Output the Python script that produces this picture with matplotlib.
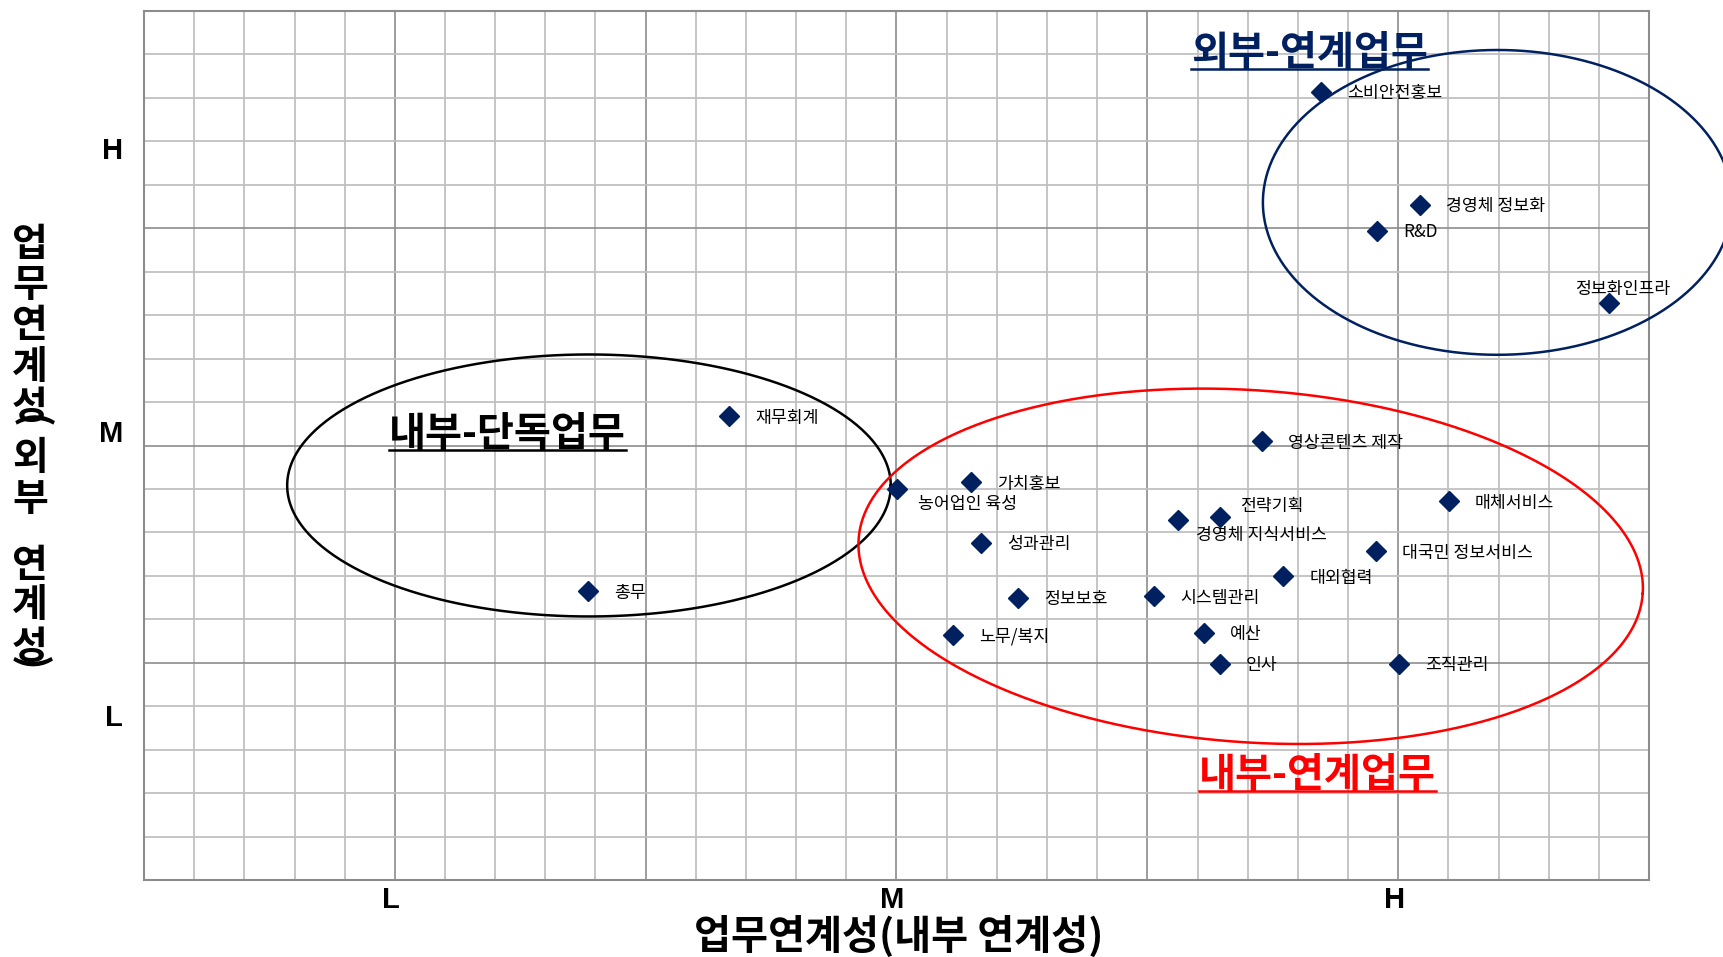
import numpy as np
import matplotlib
matplotlib.use('Agg')
import matplotlib.pyplot as plt
from matplotlib.lines import Line2D

plt.rcParams['font.family'] = ['Noto Sans CJK KR', 'DejaVu Sans']

# ---------------- data ----------------
tasks = ['소비안전홍보', '경영체 정보화', 'R&D', '정보화인프라', '재무회계',
         '영상콘텐츠 제작', '가치홍보', '농어업인 육성', '매체서비스', '전략기획',
         '경영체 지식서비스', '성과관리', '대국민 정보서비스', '대외협력', '총무',
         '정보보호', '시스템관리', '노무/복지', '예산', '인사', '조직관리']
internal = [2.847, 3.043, 2.958, 3.421, 1.667,
            2.729, 2.149, 2.001, 3.101, 2.645,
            2.561, 2.168, 2.956, 2.771, 1.385,
            2.242, 2.513, 2.112, 2.612, 2.645, 3.002]
external = [3.629, 3.108, 2.989, 2.654, 2.135,
            2.020, 1.831, 1.798, 1.744, 1.670,
            1.655, 1.553, 1.513, 1.398, 1.329,
            1.300, 1.306, 1.130, 1.137, 0.996, 0.996]

x_levels = ['L', 'M', 'H']
x_level_pos = [1, 2, 3]
y_levels = ['L', 'M', 'H']
y_level_pos = [0.745, 2.055, 3.356]

group_names = ['외부-연계업무', '내부-단독업무', '내부-연계업무']
xlabel = '업무연계성(내부 연계성)'
ylabel = '업무연계성(외부 연계성)'

# ---------------- layout ----------------
W, H = 1724, 957
fig = plt.figure(figsize=(W / 100, H / 100), dpi=100)
ax_l, ax_r, ax_t, ax_b = 144, 1649, 11, 880
ax = fig.add_axes([ax_l / W, (H - ax_b) / H, (ax_r - ax_l) / W, (ax_b - ax_t) / H])
ax.set_xlim(0.5, 3.5)
ax.set_ylim(0, 4)
ax.set_xticks(np.arange(0.5, 3.51, 0.5))
ax.set_xticks(np.round(np.arange(0.5, 3.51, 0.1), 2), minor=True)
ax.set_yticks(np.arange(0, 4.01, 1))
ax.set_yticks(np.round(np.arange(0, 4.01, 0.2), 2), minor=True)
ax.tick_params(which='both', length=0, labelbottom=False, labelleft=False)
ax.grid(which='minor', color='#C0C0C0', lw=1.3)
ax.grid(which='major', color='#8C8C8C', lw=1.2)
ax.set_axisbelow(True)
for s in ax.spines.values():
    s.set_color('#8C8C8C')
    s.set_linewidth(1.5)

px_x = (ax_r - ax_l) / 3.0
px_y = (ax_b - ax_t) / 4.0


def ellipse(cx, cy, a_px, b_px, ang_deg, **kw):
    t = np.linspace(0, 2 * np.pi, 500)
    phi = np.deg2rad(ang_deg)
    ex = a_px * np.cos(t) * np.cos(phi) - b_px * np.sin(t) * np.sin(phi)
    ey = a_px * np.cos(t) * np.sin(phi) + b_px * np.sin(t) * np.cos(phi)
    ax.plot(cx + ex / px_x, cy + ey / px_y, **kw)


ellipse(1.387, 1.816, 301.8, 131.0, 0, color='black', lw=1.8, zorder=3)
ellipse(3.198, 3.119, 234.6, 152.4, 0, color='#002060', lw=1.8, zorder=3, clip_on=False)
ellipse(2.706, 1.444, 393.0, 176.0, -4, color='#FF0000', lw=1.8, zorder=3)

ax.plot(internal, external, ls='none', marker='D', ms=10, color='#002060', zorder=5)

special = {'농어업인 육성': (21, -15, 'left'),
           '경영체 지식서비스': (18, -15, 'left'),
           '전략기획': (20, 11, 'left'),
           '정보화인프라': (13, 14, 'center')}
for name, xv, yv in zip(tasks, internal, external):
    dx, dy, ha = special.get(name, (26, -1.5, 'left'))
    ax.annotate(name, (xv, yv), xytext=(dx, dy), textcoords='offset pixels',
                ha=ha, va='center', fontsize=12.4, color='black', zorder=6)

# level labels
for lab, p in zip(x_levels, x_level_pos):
    ax.annotate(lab, (p, 0), xytext=(-4, -20), textcoords='offset pixels',
                ha='center', va='center', fontsize=21, fontweight='bold',
                family='Liberation Sans', annotation_clip=False)
for lab, p in zip(y_levels, y_level_pos):
    ax.annotate(lab, (0.5, p), xytext=(-21, 0), textcoords='offset pixels',
                ha='right', va='center', fontsize=21, fontweight='bold',
                family='Liberation Sans', annotation_clip=False)

# axis titles
fig.text(898.5 / W, 1 - 937 / H, xlabel, ha='center', va='center',
         fontsize=29, fontweight='bold')
cursor = 223.5
prev_c = None
for ch in ylabel:
    if ch in '()':
        pc = prev_c + (13 if ch == '(' else 16)
        fig.text(30 / W, 1 - pc / H, ch, rotation=-90, ha='center', va='center',
                 fontsize=28, fontweight='bold')
        cursor += 10
        continue
    adv = 24 if ch == ' ' else 41
    c = cursor + adv / 2
    if ch != ' ':
        fig.text(30 / W, 1 - c / H, ch, ha='center', va='center',
                 fontsize=28, fontweight='bold')
        prev_c = c
    cursor += adv

# group titles (underlined)
title_pos = [(2.824, 3.752, '#002060'), (1.224, 2.0, 'black'), (2.839, 0.428, '#FF0000')]
title_artists = []
for name, (tx, ty, col) in zip(group_names, title_pos):
    t = ax.text(tx, ty, name, ha='center', va='baseline', fontsize=29,
                fontweight='bold', color=col, zorder=6)
    title_artists.append((t, col))

fig.canvas.draw()
r = fig.canvas.get_renderer()
for t, col in title_artists:
    bb = t.get_window_extent(r)
    by = ax.transData.transform(t.get_position())[1] - 4
    fig.add_artist(Line2D([bb.x0 / W, bb.x1 / W], [by / H, by / H],
                          transform=fig.transFigure, color=col, lw=1.8))

fig.savefig('out.png', dpi=100)
